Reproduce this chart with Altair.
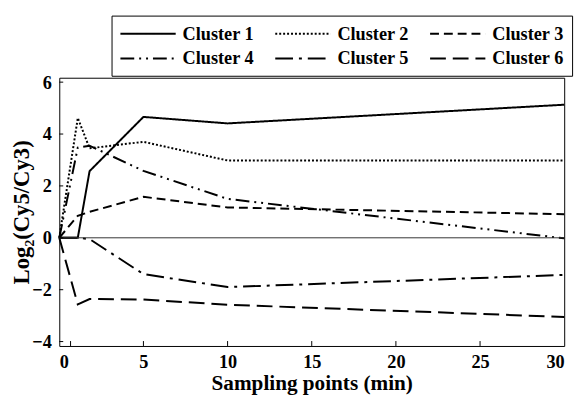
import altair as alt
import pandas as pd

# ---- data ----
times = [0, 1.1, 1.8, 5, 10, 30]
clusters = ["Cluster 1", "Cluster 2", "Cluster 3", "Cluster 4", "Cluster 5", "Cluster 6"]
cluster1 = [0, 0, 2.57, 4.66, 4.41, 5.13]
cluster2 = [0, 4.62, 3.45, 3.70, 2.98, 2.98]
cluster3 = [0, 0.85, 1.00, 1.58, 1.17, 0.91]
cluster4 = [0, 3.48, 3.55, 2.58, 1.50, -0.02]
cluster5 = [0, 0, -0.05, -1.40, -1.90, -1.43]
cluster6 = [0, -2.57, -2.36, -2.38, -2.58, -3.05]
series = [cluster1, cluster2, cluster3, cluster4, cluster5, cluster6]

x_label_values = [0, 5, 10, 15, 20, 25, 30]
x_tick_values = [0.67, 5, 10, 15, 20, 25]
y_tick_values = [-4, -2, 0, 2, 4, 6]

dashes = [[1, 0], [2, 2], [9, 5], [14, 5, 2, 5, 2, 5], [18, 6, 3, 6], [16, 7]]

rows = []
for name, vals in zip(clusters, series):
    for t, v in zip(times, vals):
        rows.append({"time": t, "value": v, "cluster": name})
df = pd.DataFrame(rows)

W, H = 512, 272
FONT = "Liberation Serif"

xs = alt.Scale(domain=[0, 30], nice=False, zero=False)
ys = alt.Scale(domain=[-4.17, 6.17], nice=False, zero=False)

x_axis = alt.Axis(values=x_label_values, title="Sampling points (min)",
                  ticks=False, domain=False, grid=False, labelPadding=7,
                  titlePadding=2, format="d", titleFontSize=21.5)
y_axis = alt.Axis(values=y_tick_values, title="Log\u2082(Cy5/Cy3)",
                  ticks=False, domain=False, grid=False, labelPadding=8,
                  titleX=-26, format="d", titleFontSize=23)

lines = alt.Chart(df).mark_line(strokeWidth=2, color="black").encode(
    x=alt.X("time:Q", scale=xs, axis=x_axis),
    y=alt.Y("value:Q", scale=ys, axis=y_axis),
    strokeDash=alt.StrokeDash(
        "cluster:N",
        scale=alt.Scale(domain=clusters, range=dashes),
        legend=alt.Legend(title=None, orient="none", legendX=53, legendY=-63,
                          columns=3, direction="horizontal",
                          symbolType="M-1,0H4.9",
                          symbolSize=361, symbolStrokeWidth=2,
                          symbolStrokeColor="black", labelFont=FONT,
                          labelFontSize=18.5, labelFontWeight="bold",
                          labelColor="black", labelOffset=43, columnPadding=17,
                          rowPadding=5, padding=8, strokeColor="black",
                          labelLimit=0),
    ),
    order=alt.Order("time:Q"),
)

zero = alt.Chart(pd.DataFrame({"z": [0]})).mark_rule(color="#333333", strokeWidth=1).encode(
    y=alt.Y("z:Q", scale=ys, axis=y_axis)
)

xticks = alt.Chart(pd.DataFrame({"t": x_tick_values})).mark_rule(color="black", strokeWidth=1).encode(
    x=alt.X("t:Q", scale=xs, axis=x_axis),
    y=alt.value(H),
    y2=alt.value(H - 5),
)

yticks = alt.Chart(pd.DataFrame({"v": y_tick_values})).mark_rule(color="black", strokeWidth=1).encode(
    y=alt.Y("v:Q", scale=ys, axis=y_axis),
    x=alt.value(0),
    x2=alt.value(4),
)

chart = alt.layer(lines, zero, xticks, yticks).properties(
    width=W, height=H,
    padding={"left": 52, "top": 68, "right": 15, "bottom": 48},
    autosize=alt.AutoSizeParams(type="none"),
    background="white",
).configure_view(
    stroke="black", strokeWidth=1
).configure_axis(
    labelFont=FONT, labelFontSize=18.5, labelFontWeight="bold", labelColor="black",
    titleFont=FONT, titleFontWeight="bold", titleColor="black",
)

chart.save("out.html", embed_options={"renderer": "svg", "actions": False})
